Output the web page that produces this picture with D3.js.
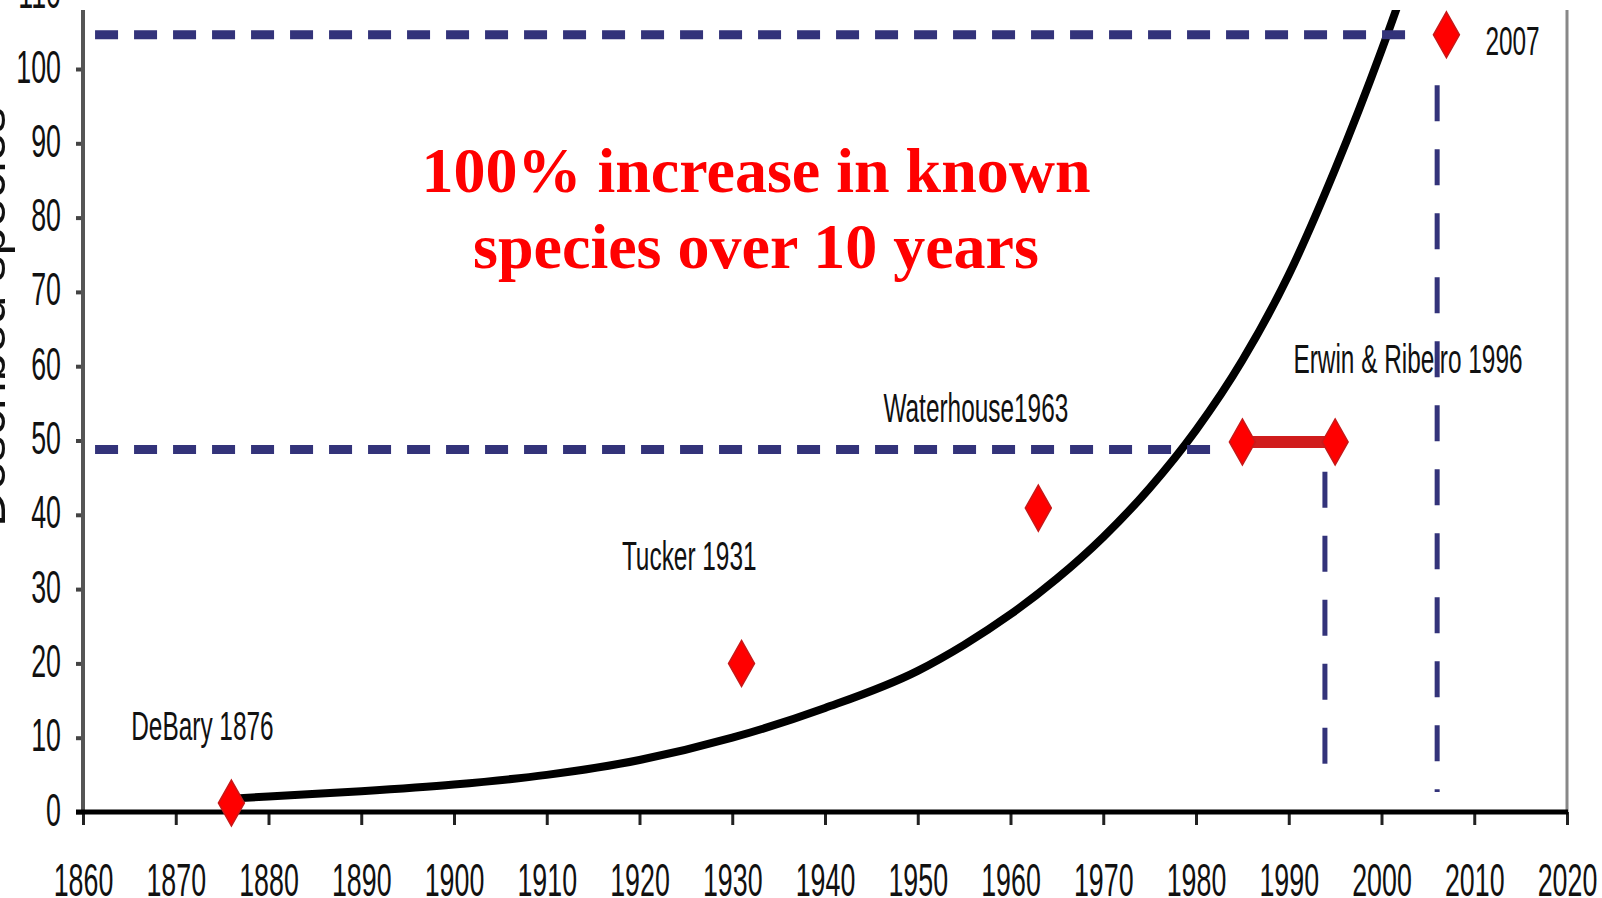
<!DOCTYPE html>
<html>
<head>
<meta charset="utf-8">
<script src="https://cdn.jsdelivr.net/npm/d3@7/dist/d3.min.js"></script>
<style>
  html, body { margin: 0; padding: 0; background: #fff; overflow: hidden; }
  svg { display: block; }
</style>
</head>
<body>
<svg id="chart" width="1602" height="898"></svg>
<script>
// ---------------- data ----------------
const curveYears  = [1876, 1880, 1890, 1900, 1910, 1920, 1930, 1940, 1950, 1955, 1960, 1965, 1970, 1975, 1980, 1985, 1990, 1995, 2000, 2003];
const curveValues = [1.8, 2.1, 2.8, 3.7, 5.0, 7.0, 10.0, 14.0, 19.0, 22.5, 26.6, 31.4, 37.0, 43.6, 51.4, 60.8, 72.3, 86.5, 102.5, 113];

const markerYears  = [1876, 1931, 1963, 1985, 1995, 2007];
const markerValues = [1.2, 20.0, 40.9, 49.8, 49.8, 104.6];

const rangeStartYear = 1985;
const rangeEndYear   = 1995;
const rangeValue     = 49.8;

const labelTexts  = ["DeBary 1876", "Tucker 1931", "Waterhouse1963", "Erwin & Ribeiro 1996", "2007"];
const labelYears  = [1865.2, 1918.1, 1946.3, 1990.5, 2011.2];
const labelValues = [9.7, 32.6, 52.5, 59.1, 101.9];

const hLineValues = [104.6, 48.8];
const hLineStarts = [1861.3, 1861.3];
const hLineEnds   = [2003.1, 1981.8];

const vLineYears  = [1993.9, 2006.0];
const vLineLows   = [5.9, 2.7];
const vLineHighs  = [45.8, 97.8];

const xTicks = [1860, 1870, 1880, 1890, 1900, 1910, 1920, 1930, 1940, 1950, 1960, 1970, 1980, 1990, 2000, 2010, 2020];
const yTicks = [0, 10, 20, 30, 40, 50, 60, 70, 80, 90, 100, 110];

const titleLines = ["100% increase in known", "species over 10 years"];
const yTitle = "Described species";

// ---------------- layout ----------------
const svg = d3.select("#chart");
const x = d3.scaleLinear().domain([1860, 2020]).range([83, 1567]);
const y = d3.scaleLinear().domain([0, 100]).range([812, 69]);
const plotTop = 10;

const sans = "Arial, 'Liberation Sans', Helvetica, sans-serif";

svg.append("defs").append("clipPath").attr("id", "plotClip")
  .append("rect").attr("x", 83).attr("y", plotTop).attr("width", 1567 - 83).attr("height", 812 - plotTop);

// y-axis title (partially off-canvas, as in the reference)
svg.append("text")
  .attr("transform", "translate(5,317) rotate(-90)")
  .attr("text-anchor", "middle")
  .attr("font-family", sans)
  .attr("font-size", 46)
  .attr("fill", "#111")
  .attr("textLength", 420)
  .attr("lengthAdjust", "spacingAndGlyphs")
  .text(yTitle);

// title
svg.append("g").selectAll("text").data(titleLines).join("text")
  .attr("x", 756)
  .attr("y", (d, i) => 192 + i * 76)
  .attr("text-anchor", "middle")
  .attr("font-family", "'Liberation Serif', 'Times New Roman', serif")
  .attr("font-weight", "bold")
  .attr("font-size", 64)
  .attr("fill", "#ff0000")
  .text(d => d);

// axes
const yAxis = d3.axisLeft(y).tickValues(yTicks).tickSize(7).tickSizeOuter(0).tickFormat(d3.format("d"));
const gy = svg.append("g").attr("transform", "translate(83,0)").call(yAxis);
gy.select(".domain").remove();
gy.selectAll(".tick line").attr("stroke", "#444").attr("stroke-width", 4);
gy.selectAll(".tick text")
  .attr("x", null).attr("dy", null)
  .attr("transform", "translate(-22,13) scale(0.57,1)")
  .attr("font-family", sans).attr("font-size", 47).attr("fill", "#111");

const xAxis = d3.axisBottom(x).tickValues(xTicks).tickSize(13).tickSizeOuter(0).tickFormat(d3.format("d"));
const gx = svg.append("g").attr("transform", "translate(0,812)").call(xAxis);
gx.select(".domain").remove();
gx.selectAll(".tick line").attr("stroke", "#222").attr("stroke-width", 3);
gx.selectAll(".tick text")
  .attr("y", null).attr("dy", null)
  .attr("transform", "translate(0,84) scale(0.57,1)")
  .attr("font-family", sans).attr("font-size", 47).attr("fill", "#111");

// frame lines
svg.append("line").attr("x1", 83).attr("x2", 83).attr("y1", plotTop).attr("y2", 812)
  .attr("stroke", "#555").attr("stroke-width", 4);
svg.append("line").attr("x1", 1567).attr("x2", 1567).attr("y1", plotTop).attr("y2", 812)
  .attr("stroke", "#888").attr("stroke-width", 3);
svg.append("line").attr("x1", 76).attr("x2", 1568).attr("y1", 812).attr("y2", 812)
  .attr("stroke", "#000").attr("stroke-width", 5);

// labels
svg.append("g").selectAll("text").data(labelTexts).join("text")
  .attr("transform", (d, i) => `translate(${x(labelYears[i])},${y(labelValues[i])}) scale(0.61,1)`)
  .attr("font-family", sans)
  .attr("font-size", 40)
  .attr("fill", "#111")
  .text(d => d);

// curve
const curvePts = curveYears.map((yr, i) => [yr, curveValues[i]]);
svg.append("path")
  .datum(curvePts)
  .attr("clip-path", "url(#plotClip)")
  .attr("fill", "none")
  .attr("stroke", "#000")
  .attr("stroke-width", 8)
  .attr("stroke-linecap", "round")
  .attr("d", d3.line().x(d => x(d[0])).y(d => y(d[1])).curve(d3.curveMonotoneX));

// dashed reference lines
svg.append("g").selectAll("line").data(hLineValues).join("line")
  .attr("x1", (d, i) => x(hLineStarts[i]))
  .attr("x2", (d, i) => x(hLineEnds[i]))
  .attr("y1", d => y(d)).attr("y2", d => y(d))
  .attr("stroke", "#33337a")
  .attr("stroke-width", 9)
  .attr("stroke-dasharray", "23,16");

svg.append("g").selectAll("line").data(vLineYears).join("line")
  .attr("x1", d => x(d)).attr("x2", d => x(d))
  .attr("y1", (d, i) => y(vLineHighs[i]))
  .attr("y2", (d, i) => y(vLineLows[i]))
  .attr("stroke", "#33337a")
  .attr("stroke-width", 5)
  .attr("stroke-dasharray", "36,28");

// range bar
svg.append("line")
  .attr("x1", x(rangeStartYear)).attr("x2", x(rangeEndYear))
  .attr("y1", y(rangeValue)).attr("y2", y(rangeValue))
  .attr("stroke", "#d01c1c").attr("stroke-width", 12);

// diamonds
const hw = 13, hh = 23;
svg.append("g").selectAll("path").data(markerYears).join("path")
  .attr("transform", (d, i) => `translate(${x(d)},${y(markerValues[i])})`)
  .attr("d", `M0,${-hh}L${hw},0L0,${hh}L${-hw},0Z`)
  .attr("fill", "#ff0000")
  .attr("stroke", "#c81818")
  .attr("stroke-width", 1.5);
</script>
</body>
</html>
